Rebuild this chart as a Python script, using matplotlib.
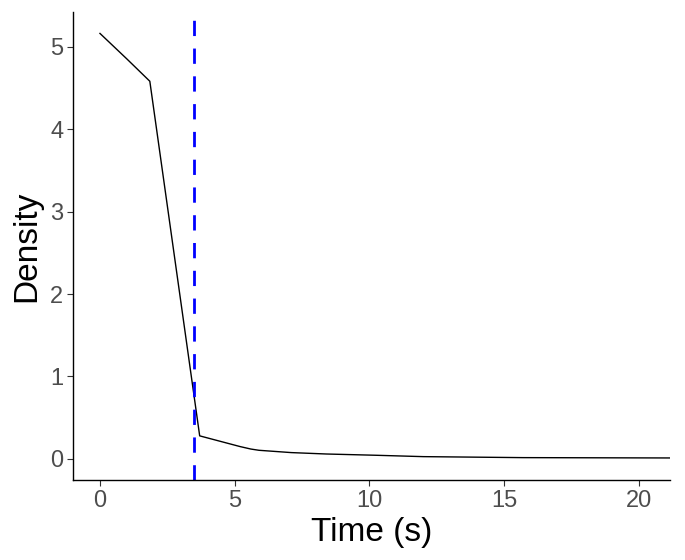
import matplotlib
matplotlib.use('Agg')
import matplotlib.pyplot as plt

plt.rcParams['font.family'] = ['Liberation Sans', 'DejaVu Sans']

# datos de la curva de densidad
time_s = [0.0, 1.0, 1.85, 3.7, 5.2, 5.6, 5.9, 7.1, 8.4, 10.2, 12.0, 15.7, 21.2]
density = [5.16, 4.85, 4.58, 0.28, 0.15, 0.12, 0.105, 0.077, 0.06, 0.045, 0.028, 0.016, 0.012]

# umbral (línea vertical)
threshold = 3.5

x_ticks = [0, 5, 10, 15, 20]
y_ticks = [0, 1, 2, 3, 4, 5]

fig = plt.figure(figsize=(6.85, 5.6), dpi=100)
ax = fig.add_axes([0.1066, 0.1429, 0.978 - 0.1066, 0.9786 - 0.1429])

ax.plot(time_s, density, color='black', linewidth=1.0)
ax.axvline(threshold, color='#0000FF', linestyle=(0, (5.5, 4.5)), linewidth=2.0)

ax.set_xlim(-1.0, 21.15)
ax.set_ylim(-0.255, 5.42)
ax.set_xticks(x_ticks)
ax.set_yticks(y_ticks)

for side in ['top', 'right']:
    ax.spines[side].set_visible(False)
for side in ['left', 'bottom']:
    ax.spines[side].set_color('black')
    ax.spines[side].set_linewidth(1.0)

ax.tick_params(axis='both', colors='#333333', labelcolor='#4D4D4D',
               labelsize=17, length=4, width=0.8, pad=3)

ax.set_xlabel('Time (s)', fontsize=24, labelpad=4)
ax.set_ylabel('Density', fontsize=24, labelpad=6)

fig.savefig('out.png', dpi=100)
